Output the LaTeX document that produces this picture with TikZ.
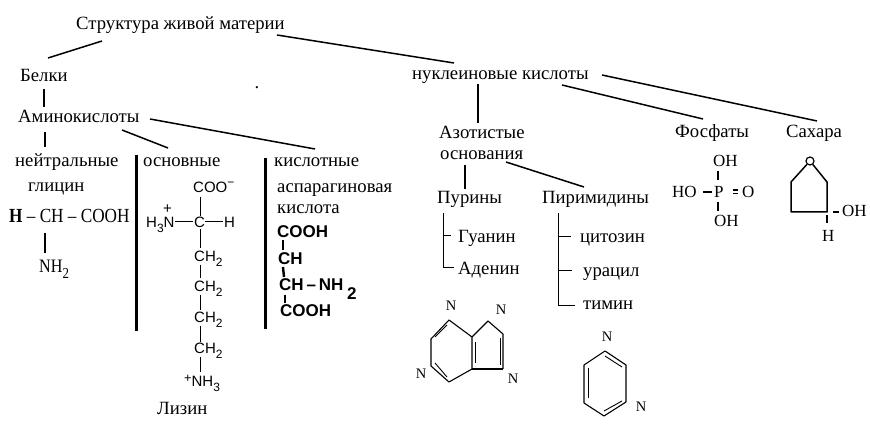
\documentclass[tikz,border=0pt]{standalone}
\usepackage{fontspec}
\setmainfont{Liberation Serif}
\newfontfamily\arialf{Liberation Sans}
\newcommand{\lowidx}[1]{\raisebox{-0.28em}{\scalebox{.8}{#1}}}
\tikzset{
  x=1pt,y=-1pt,
  lab/.style={anchor=base west,inner sep=0pt,font=\fontsize{18.7}{20}\selectfont},
  small/.style={anchor=base west,inner sep=0pt,font=\fontsize{17}{18}\selectfont},
  sans/.style={anchor=base west,inner sep=0pt,font=\fontsize{15}{16}\arialf\selectfont},
  sansbold/.style={anchor=base west,inner sep=0pt,font=\fontsize{17}{18}\arialf\bfseries\selectfont},
  atom/.style={anchor=center,inner sep=0pt,font=\fontsize{14.5}{15}\selectfont},
  conn/.style={line width=1.5pt,black},
  thin conn/.style={line width=1pt,black},
  heavy/.style={line width=3pt,black},
  bond/.style={line width=1.1pt,black},
  bondin/.style={line width=.9pt,black},
}
\begin{document}
\begin{tikzpicture}
\useasboundingbox (0,0) rectangle (870,435);
\fill[white] (0,0) rectangle (870,435);
% text
\node[lab] (root) at (76,30) {Структура живой материи};
\node[lab] (belki) at (20,82) {Белки};
\node[lab] (amino) at (18,123) {Аминокислоты};
\node[lab] (neutral) at (15,167) {нейтральные};
\node[lab] (glicin) at (28,192) {глицин};
\node[lab] (osn) at (143,167) {основные};
\node[lab] (kis) at (274,167) {кислотные};
\node[lab] (asp) at (277,193) {аспарагиновая};
\node[lab] (kisl) at (277,214) {кислота};
\node[lab] (liz) at (157,414) {Лизин};
\node[lab] (dot) at (254.5,88.5) {.};
\node[lab] (nucl) at (412,80) {нуклеиновые кислоты};
\node[lab] (az) at (439,139) {Азотистые};
\node[lab] (osnov) at (440,160) {основания};
\node[lab] (pur) at (437,204) {Пурины};
\node[lab] (pir) at (542,204) {Пиримидины};
\node[lab] (guan) at (458,243) {Гуанин};
\node[lab] (aden) at (458,275) {Аденин};
\node[lab] (cit) at (580,243) {цитозин};
\node[lab] (ura) at (583,277) {урацил};
\node[lab] (tim) at (583,310) {тимин};
\node[lab] (fos) at (675,138) {Фосфаты};
\node[lab] (sah) at (786,138) {Сахара};
% glycine
\node[anchor=base west,inner sep=0pt,font=\fontsize{20}{22}\selectfont] (gly) at (9,223) {\scalebox{.86}[1]{\textbf{H} – CH – COOH}};
\node[anchor=base west,inner sep=0pt,font=\fontsize{19}{22}\selectfont] (glyn) at (39,273) {\scalebox{.85}[1]{NH\lowidx{2}}};
\draw[line width=2pt] ([shift={(36,10)}]gly.base west) -- ([shift={(6,-20)}]glyn.base west);
% lysine
\node[sans] (coo) at (193,193) {COO\raisebox{.45em}{\scalebox{.8}{−}}};
\node[sans] (h3n) at (146,228) {H\lowidx{3}N};
\node[sans] (plus) at (163,214) {+};
\node[sans] (cc) at (194,228) {C};
\node[sans] (hh) at (224,228) {H};
\node[sans] (ch1) at (194,262) {CH\lowidx{2}};
\node[sans] (ch2) at (194,292) {CH\lowidx{2}};
\node[sans] (ch3) at (194,323) {CH\lowidx{2}};
\node[sans] (ch4) at (194,354) {CH\lowidx{2}};
\node[sans] (nh3) at (184,387) {\raisebox{.3em}{\scalebox{.85}{+}}NH\lowidx{3}};
\draw[thin conn] ([shift={(7,4)}]coo.base west) -- ([shift={(6,-12)}]cc.base west);
\draw[thin conn] ([shift={(29,-6)}]h3n.base west) -- ([shift={(-1,-6)}]cc.base west);
\draw[thin conn] ([shift={(11,-6)}]cc.base west) -- ([shift={(-1,-6)}]hh.base west);
\draw[thin conn] ([shift={(6,1)}]cc.base west) -- ([shift={(6,-14)}]ch1.base west);
\draw[thin conn] ([shift={(6,3)}]ch1.base west) -- ([shift={(6,-14)}]ch2.base west);
\draw[thin conn] ([shift={(6,3)}]ch2.base west) -- ([shift={(6,-13)}]ch3.base west);
\draw[thin conn] ([shift={(6,3)}]ch3.base west) -- ([shift={(6,-12)}]ch4.base west);
\draw[thin conn] ([shift={(6,3)}]ch4.base west) -- ([shift={(16,-15)}]nh3.base west);
% aspartic acid
\node[sansbold] (c1) at (277,238) {COOH};
\node[sansbold] (c2) at (278,265) {CH};
\node[sansbold] (c3) at (279,291) {CH\,–\,NH};
\node[sansbold] (c3i) at (347,300) {2};
\node[sansbold] (c4) at (280,317) {COOH};
\draw[line width=2.4pt] ([shift={(6,2)}]c1.base west) -- ([shift={(5,-15)}]c2.base west);
\draw[line width=2.4pt] ([shift={(5,2)}]c2.base west) -- ([shift={(5,-14)}]c3.base west);
\draw[line width=2.4pt] ([shift={(6,4)}]c3.base west) -- ([shift={(5,-14)}]c4.base west);
% separators
\coordinate (s1a) at (136.5,155); \coordinate (s1b) at (136.5,331);
\coordinate (s2a) at (265.5,158); \coordinate (s2b) at (265.5,329);
\draw[heavy] (s1a) -- (s1b);
\draw[heavy] (s2a) -- (s2b);
% hierarchy
\draw[conn] ([shift={(26,11)}]root.base west) -- ([shift={(28,-24)}]belki.base west);
\draw[conn] ([shift={(201,5)}]root.base west) -- ([shift={(42,-17)}]nucl.base west);
\draw[conn] ([shift={(24,7)}]belki.base west) -- ([shift={(26,-16)}]amino.base west);
\draw[conn] ([shift={(27,9)}]amino.base west) -- ([shift={(30,-20)}]neutral.base west);
\draw[conn] ([shift={(104,7)}]amino.base west) -- ([shift={(25,-19)}]osn.base west);
\draw[conn] ([shift={(132,-4)}]amino.base west) -- ([shift={(41,-18)}]kis.base west);
\draw[conn] ([shift={(66,4)}]nucl.base west) -- ([shift={(39,-16)}]az.base west);
\draw[conn] ([shift={(150,5)}]nucl.base west) -- ([shift={(28,-19)}]fos.base west);
\draw[conn] ([shift={(190,-5)}]nucl.base west) -- ([shift={(31,-17)}]sah.base west);
\draw[conn] ([shift={(25,5)}]osnov.base west) -- ([shift={(28,-15)}]pur.base west);
\draw[conn] ([shift={(66,2)}]osnov.base west) -- ([shift={(42,-17)}]pir.base west);
\draw[thin conn] ([shift={(6.5,9)}]pur.base west) |- ([shift={(-4,-7)}]aden.base west);
\draw[thin conn] ([shift={(-14.5,-7)}]guan.base west) -- ([shift={(-7,-7)}]guan.base west);
\draw[thin conn] ([shift={(16,9)}]pir.base west) |- ([shift={(-8,-4)}]tim.base west);
\draw[thin conn] ([shift={(-22,-6)}]cit.base west) -- ([shift={(-9,-6)}]cit.base west);
\draw[thin conn] ([shift={(-25,-6)}]ura.base west) -- ([shift={(-11,-6)}]ura.base west);
% purine
\node[atom] (n1) at (451,306) {N};
\node[atom] (n2) at (501,310) {N};
\node[atom] (n3) at (421,374) {N};
\node[atom] (n4) at (513,379) {N};
\draw[bond,line join=round] (449,320) -- (431,339) -- (431,366) -- (449,382) -- (472,369) -- (472,337) -- cycle;
\draw[bond,line join=round] (472,337) -- (488,321) -- (503,334) -- (503,369);
\draw[line width=1.8pt] (503,369) -- (472,369);
\draw[bondin] (447,325) -- (435,337);
\draw[bondin] (435,363) -- (447,377);
\draw[bondin] (475,342) -- (475,363);
\draw[bondin] (500,338) -- (500,365);
% pyrimidine
\node[atom] (n5) at (607,337) {N};
\node[atom] (n6) at (641,407) {N};
\draw[bond,line join=round] (605,351) -- (626,365) -- (626,402) -- (604,416) -- (584,403) -- (584,365) -- cycle;
\draw[bondin] (605,356) -- (622,367);
\draw[bondin] (588,368) -- (588,398);
\draw[bondin] (604,411) -- (622,401);
% phosphate
\node[small] (oh1) at (713,167) {OH};
\node[small] (ho) at (672,198) {HO};
\node[small] (pp) at (714,198) {P};
\node[small] (oo) at (742,198) {O};
\node[small] (oh2) at (714,227) {OH};
\draw[conn] ([shift={(5,4)}]oh1.base west) -- ([shift={(4,-18)}]pp.base west);
\draw[conn] ([shift={(31,-6)}]ho.base west) -- ([shift={(-2,-6)}]pp.base west);
\draw[conn] ([shift={(19,-8)}]pp.base west) -- ([shift={(-4,-8)}]oo.base west);
\draw[conn] ([shift={(19,-4.5)}]pp.base west) -- ([shift={(-4,-4.5)}]oo.base west);
\draw[conn] ([shift={(4,4)}]pp.base west) -- ([shift={(4,-16)}]oh2.base west);
% sugar
\node[draw,circle,line width=1.2pt,minimum size=8pt,inner sep=0pt] (ox) at (810,161) {};
\node[small] (oh3) at (842,217) {OH};
\node[small] (hs) at (822,242) {H};
\coordinate (s1) at (791,182); \coordinate (s2) at (791,212);
\coordinate (s3) at (827,212); \coordinate (s4) at (827,182);
\draw[line width=1.5pt,line join=round] (ox) -- (s1) -- (s2) -- (s3) -- (s4) -- (ox);
\draw[conn] ([shift={(-9,-5)}]oh3.base west) -- ([shift={(-3,-5)}]oh3.base west);
\draw[conn] ([shift={(5,-27)}]hs.base west) -- ([shift={(5,-19)}]hs.base west);
\end{tikzpicture}
\end{document}
